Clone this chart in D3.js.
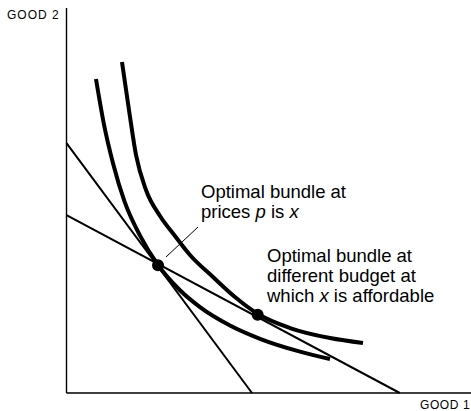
<!DOCTYPE html>
<html>
<head>
<meta charset="utf-8">
<script src="https://cdn.jsdelivr.net/npm/d3@7"></script>
<style>
  body { margin: 0; background: #fff; }
  svg { display: block; font-family: "Liberation Sans", Arial, Helvetica, sans-serif; }
</style>
</head>
<body>
<svg id="chart" width="471" height="411"></svg>
<script>
// budget lines: [intercept on good 1, intercept on good 2]
var budgetP = [45.8, 64.9];
var budgetNew = [82.3, 46.2];

// indifference curves, points [good1, good2]
var curveLow = [[7.28, 81.56], [9.26, 69.71], [11.48, 59.69], [14.32, 49.77], [18.15, 40.86],
    [22.59, 33.25], [28.02, 26.68], [32.96, 22.31], [40.37, 17.53], [47.78, 14.08],
    [57.65, 10.75], [65.06, 8.83]];
var curveHigh = [[13.70, 85.97], [15.43, 73.51], [17.16, 61.82], [19.63, 52.73], [23.09, 45.97],
    [26.79, 40.78], [30.49, 35.84], [36.17, 30.13], [41.60, 24.94], [47.28, 20.52],
    [55.19, 16.88], [65.06, 14.29], [73.21, 12.99]];

// optimal bundles
var bundles = [[22.6, 33.2], [47.2, 20.3]];

var axisLabels = ['GOOD 1', 'GOOD 2'];

var svg = d3.select('#chart');

var xScale = d3.scaleLinear().domain([0, 100]).range([66.5, 471.5]);
var yScale = d3.scaleLinear().domain([0, 100]).range([393, 8]);

var plot = svg.append('g');

// axes, just the two lines
plot.append('line')
    .attr('x1', xScale(0)).attr('y1', yScale(0))
    .attr('x2', xScale(0)).attr('y2', yScale(100))
    .attr('stroke', '#000').attr('stroke-width', 1.4);
plot.append('line')
    .attr('x1', xScale(0)).attr('y1', yScale(0))
    .attr('x2', xScale(100)).attr('y2', yScale(0))
    .attr('stroke', '#000').attr('stroke-width', 1.4);

// budget lines
[budgetP, budgetNew].forEach(function(b){
    plot.append('line')
        .attr('x1', xScale(0)).attr('y1', yScale(b[1]))
        .attr('x2', xScale(b[0])).attr('y2', yScale(0))
        .attr('stroke', '#000').attr('stroke-width', 2);
});

var line = d3.line()
    .x(function(d){ return xScale(d[0]); })
    .y(function(d){ return yScale(d[1]); })
    .curve(d3.curveMonotoneX);

plot.selectAll('path.ic')
    .data([curveLow, curveHigh])
    .enter()
    .append('path')
    .attr('class', 'ic')
    .attr('d', line)
    .attr('fill', 'none')
    .attr('stroke', '#000')
    .attr('stroke-width', 4);

plot.selectAll('circle')
    .data(bundles)
    .enter()
    .append('circle')
    .attr('r', 6)
    .attr('cx', function(d){ return xScale(d[0]); })
    .attr('cy', function(d){ return yScale(d[1]); })
    .attr('fill', '#000');

// leader line from label to x
plot.append('line')
    .attr('x1', 198).attr('y1', 227)
    .attr('x2', 166).attr('y2', 257)
    .attr('stroke', '#000').attr('stroke-width', 1);

// axis labels
svg.append('text')
    .attr('x', 7).attr('y', 19)
    .style('font-size', '12px')
    .style('letter-spacing', '1px')
    .text(axisLabels[1]);
svg.append('text')
    .attr('x', 420).attr('y', 409)
    .style('font-size', '12px')
    .style('letter-spacing', '0.6px')
    .text(axisLabels[0]);

// annotations
function note(x, y, parts) {
    var t = svg.append('text')
        .attr('x', x).attr('y', y)
        .style('font-size', '18.5px');
    parts.forEach(function(p){
        t.append('tspan')
            .style('font-style', p[1] ? 'italic' : 'normal')
            .text(p[0]);
    });
}
note(201, 198, [['Optimal bundle at']]);
note(201, 218, [['prices '], ['p', true], [' is '], ['x', true]]);
note(267, 262, [['Optimal bundle at']]);
note(267, 282, [['different budget at']]);
note(267, 302, [['which '], ['x', true], [' is affordable']]);
</script>
</body>
</html>
